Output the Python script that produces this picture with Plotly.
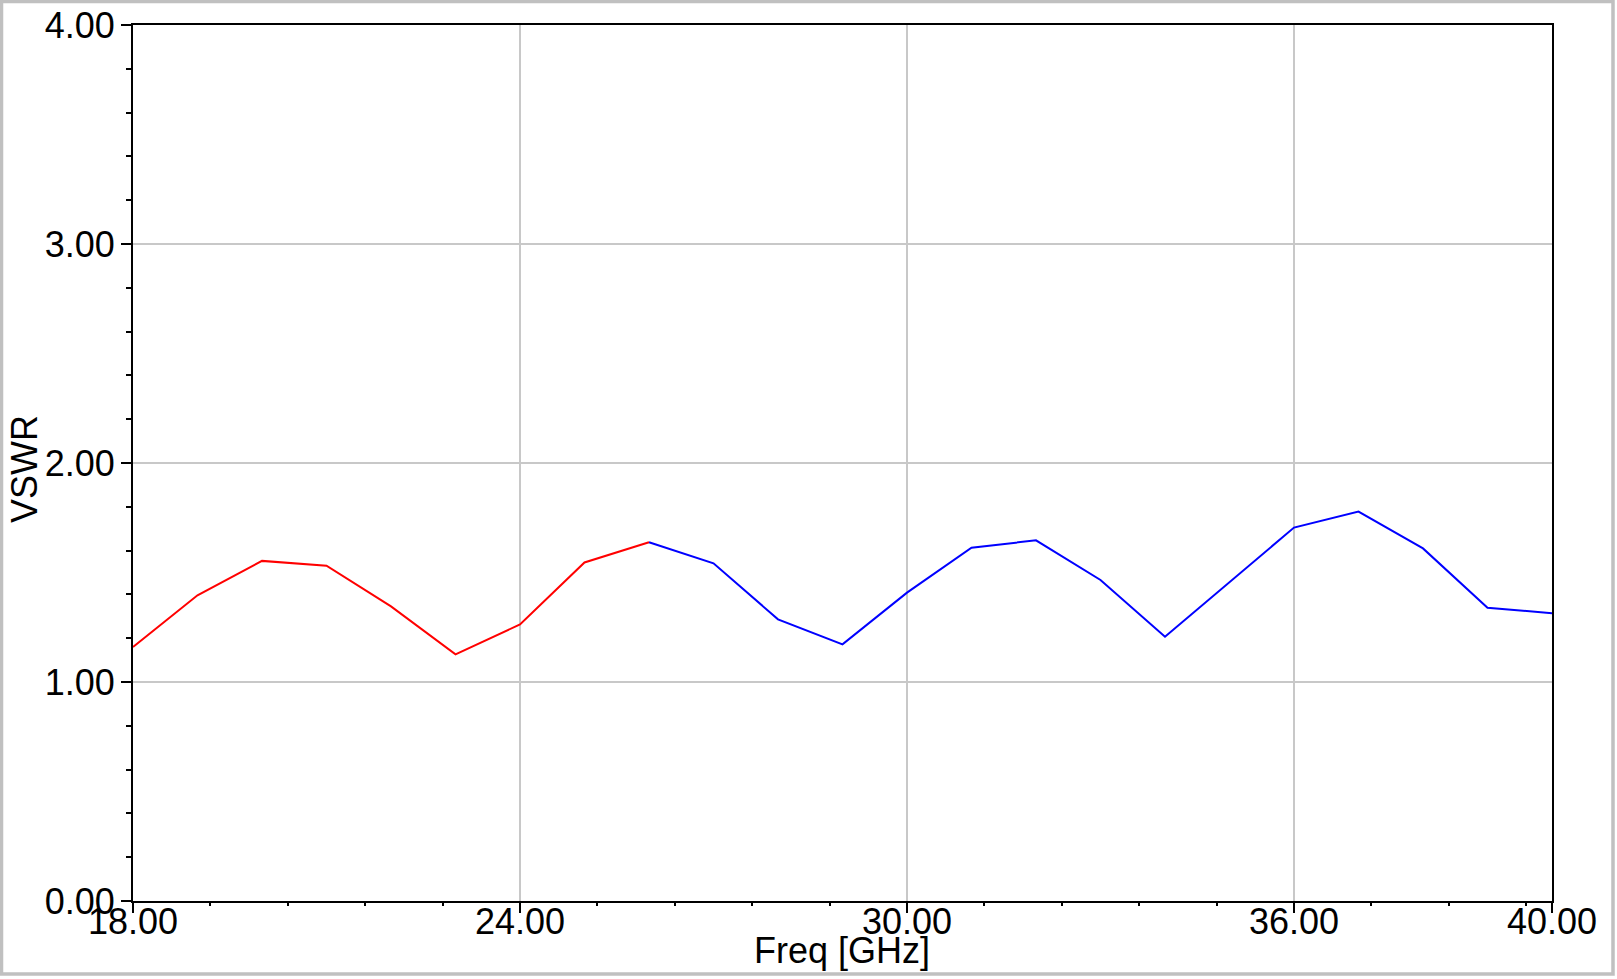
import plotly.graph_objects as go

freq_red = [18, 19, 20, 21, 22, 23, 24, 25, 26]
vswr_red = [1.16, 1.396, 1.553, 1.531, 1.345, 1.126, 1.263, 1.546, 1.638]
freq_blue = [26, 27, 28, 29, 30, 31, 32, 33, 34, 35, 36, 37, 38, 39, 40]
vswr_blue = [1.638, 1.542, 1.286, 1.172, 1.408, 1.613, 1.647, 1.466, 1.207, 1.456, 1.705, 1.778, 1.610, 1.339, 1.314]
x_ticks = [18, 24, 30, 36, 40]
y_ticks = [0, 1, 2, 3, 4]

W, H = 1617, 979
L, R, T, B = 133, 65, 25, 78
pw, ph = W - L - R, H - T - B

font = "Liberation Sans, Arial, sans-serif"

fig = go.Figure()
fig.add_trace(go.Scatter(x=freq_red, y=vswr_red, mode="lines",
                         line=dict(color="#ff0000", width=2), showlegend=False))
fig.add_trace(go.Scatter(x=freq_blue, y=vswr_blue, mode="lines",
                         line=dict(color="#0000ff", width=2), showlegend=False))

def px2x(X):
    return (X - L) / pw

def px2y(Y):
    return (H - B - Y) / ph

fig.add_shape(type="rect", xref="paper", yref="paper",
              x0=px2x(1.5), x1=px2x(1613), y0=px2y(974), y1=px2y(1.5),
              line=dict(color="#c0c0c0", width=3.5), fillcolor="rgba(0,0,0,0)")

fig.add_annotation(text="Freq [GHz]", xref="paper", yref="paper",
                   x=px2x(842), y=px2y(950), xanchor="center", yanchor="middle",
                   showarrow=False, font=dict(family=font, size=36, color="black"))
fig.add_annotation(text="VSWR", xref="paper", yref="paper",
                   x=px2x(24), y=px2y(469), xanchor="center", yanchor="middle",
                   textangle=-90, showarrow=False,
                   font=dict(family=font, size=36, color="black"))

fig.update_layout(
    width=W, height=H,
    margin=dict(l=L, r=R, t=T, b=B, pad=0),
    paper_bgcolor="white", plot_bgcolor="white",
    font=dict(family=font, size=36, color="black"),
    xaxis=dict(
        range=[18, 40], tickvals=x_ticks, tickformat=".2f",
        ticks="outside", ticklen=10, tickwidth=1.5, tickcolor="black",
        showgrid=True, gridcolor="#c8c8c8", gridwidth=2,
        showline=True, linecolor="black", linewidth=2, mirror=True,
        zeroline=False, automargin=False, ticklabelstandoff=-22,
        minor=dict(tick0=18, dtick=1.2, ticks="outside", ticklen=3,
                   tickcolor="black", tickwidth=1.5, showgrid=False),
        tickfont=dict(size=36),
    ),
    yaxis=dict(
        range=[0, 4], tickvals=y_ticks, tickformat=".2f",
        ticks="outside", ticklen=10, tickwidth=1.5, tickcolor="black",
        showgrid=True, gridcolor="#c8c8c8", gridwidth=2,
        showline=True, linecolor="black", linewidth=2, mirror=True,
        zeroline=False, automargin=False, ticklabelstandoff=-1,
        minor=dict(dtick=0.2, ticks="outside", ticklen=5,
                   tickcolor="black", tickwidth=1.5, showgrid=False),
        tickfont=dict(size=36),
    ),
)

fig.write_html("out.html", config={"displayModeBar": False},
               post_script="document.body.style.margin='0';document.body.style.overflow='hidden';")
